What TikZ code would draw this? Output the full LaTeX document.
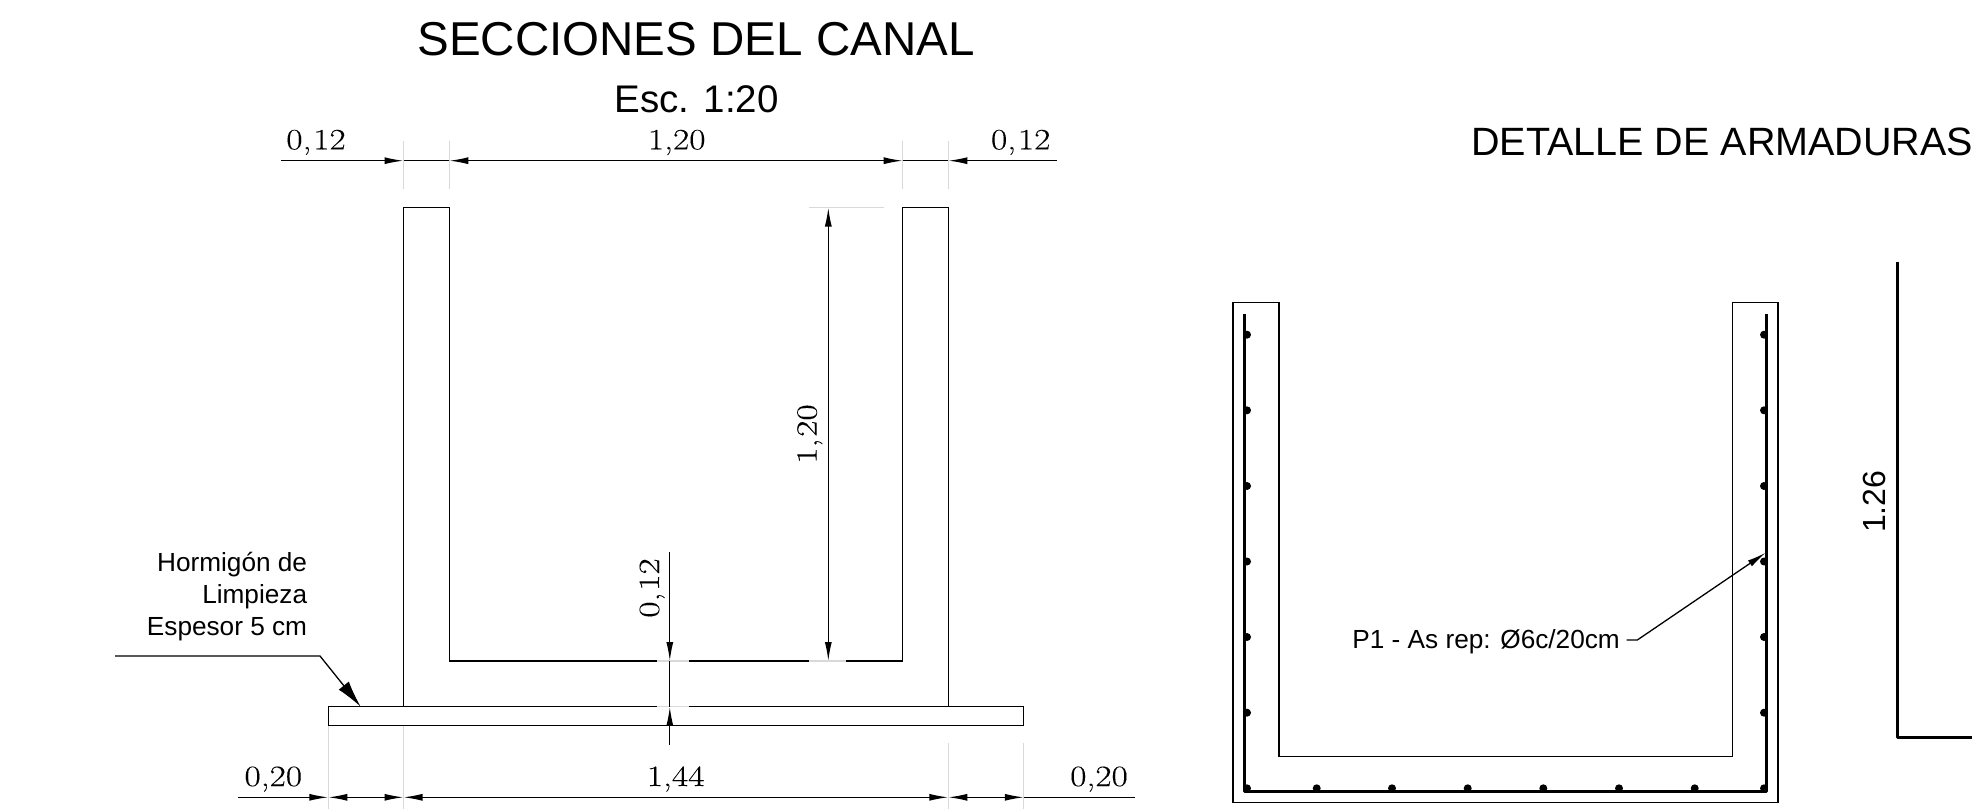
\documentclass[tikz,border=0pt]{standalone}
\usepackage{fontspec}
\setmainfont{Liberation Sans}
\usetikzlibrary{arrows.meta}
\newfontfamily\dimfont[FakeStretch=1.2,FakeBold=0.15]{Latin Modern Roman}
\newcommand{\dimcomma}{,\kern.06em}
\definecolor{extgray}{gray}{0.85}
\tikzset{
  x=1pt,y=-1pt,
  concrete/.style={draw=black,line width=1.3pt,line join=miter},
  dimline/.style={draw=black,line width=1.3pt},
  extline/.style={draw=extgray,line width=0.9pt},
  dimtip/.style={-{Latex[length=19pt,width=7pt]}},
  tiptip/.style={{Latex[length=19pt,width=7pt]}-{Latex[length=19pt,width=7pt]}},
  rebar/.style={draw=black,line width=3pt,line join=round,line cap=butt},
  bardot/.style={circle,fill=black,inner sep=0pt,minimum size=8pt},
  dimtext/.style={inner sep=0pt,font=\dimfont\fontsize{29.5}{30}\selectfont},
  labeltext/.style={inner sep=0pt,font=\fontsize{26.2}{31}\selectfont},
}
\begin{document}
\begin{tikzpicture}
\useasboundingbox[clip] (0,0) rectangle (1972,809);
% titles
\node[inner sep=0pt,anchor=base,font=\fontsize{47.5}{50}\selectfont] (title) at (696,55.5) {SECCIONES DEL CANAL};
\node[inner sep=0pt,anchor=base,font=\fontsize{38.5}{40}\selectfont] (esc) at (696.5,112) {Esc. 1:20};
\node[inner sep=0pt,anchor=base west,font=\fontsize{39.5}{40}\selectfont] (det) at (1471,155.5) {DETALLE DE ARMADURAS};
% extension lines
\foreach \xx in {403.5,449.3,902.7,948.3} \draw[extline] (\xx,141) -- (\xx,189);
\draw[extline] (809,207.5) -- (884,207.5);
\draw[extline] (328.3,725.3) -- (328.3,809);
\draw[extline] (403.5,725.3) -- (403.5,809);
\draw[extline] (948.3,743) -- (948.3,809);
\draw[extline] (1023.8,743) -- (1023.8,809);
% left section
\draw[concrete] (403.5,706.7) -- (403.5,207.5) -- (449.3,207.5) -- (449.3,661) -- (902.7,661) -- (902.7,207.5) -- (948.3,207.5) -- (948.3,706.7);
\draw[concrete] (328.3,706.7) rectangle (1023.8,725.3);
% gaps of the dimension lines
\draw[extline,line width=1.3pt] (656.8,661) -- (689.4,661);
\draw[extline,line width=1.3pt] (656.8,706.7) -- (689.4,706.7);
\draw[extline,line width=1.3pt] (809,661) -- (846,661);
% top dimensions
\coordinate (tl) at (281,160.7); \coordinate (ta) at (403.5,160.7); \coordinate (tb) at (449.3,160.7);
\coordinate (tc) at (902.7,160.7); \coordinate (td) at (948.3,160.7); \coordinate (tr) at (1057,160.7);
\draw[dimline,dimtip] (tl) -- (ta);
\draw[dimline] (ta) -- (tb);
\draw[dimline,tiptip] (tb) -- (tc);
\draw[dimline] (tc) -- (td);
\draw[dimline,dimtip] (tr) -- (td);
\node[dimtext,anchor=base] (d1) at (316,149.3) {0\dimcomma12};
\node[dimtext,anchor=base] (d2) at (676.7,149.3) {1,20};
\node[dimtext,anchor=base] (d3) at (1020.7,149.3) {0\dimcomma12};
% vertical dimensions
\coordinate (va) at (828.3,207.5); \coordinate (vb) at (828.3,661);
\draw[dimline,tiptip] (va) -- (vb);
\node[dimtext,anchor=base,rotate=90] (d4) at (816.7,434) {1\dimcomma20};
\coordinate (wa) at (669.8,552); \coordinate (wb) at (669.8,661); \coordinate (wc) at (669.8,706.7); \coordinate (wd) at (669.8,745);
\draw[dimline,dimtip] (wa) -- (wb);
\draw[dimline] (wb) -- (wc);
\draw[dimline,dimtip] (wd) -- (wc);
\node[dimtext,anchor=base,rotate=90] (d5) at (659,588) {0\dimcomma12};
% bottom dimensions
\coordinate (ba) at (238,797.3); \coordinate (bb) at (328.3,797.3); \coordinate (bc) at (403.5,797.3);
\coordinate (bd) at (948.3,797.3); \coordinate (be) at (1023.8,797.3); \coordinate (bf) at (1134.5,797.3);
\draw[dimline,dimtip] (ba) -- (bb);
\draw[dimline,tiptip] (bb) -- (bc);
\draw[dimline,tiptip] (bc) -- (bd);
\draw[dimline,tiptip] (bd) -- (be);
\draw[dimline] (be) -- (bf);
\node[dimtext,anchor=base] (d6) at (273.3,786) {0,20};
\node[dimtext,anchor=base] (d7) at (675.6,786) {1,44};
\node[dimtext,anchor=base] (d8) at (1099,786) {0,20};
% leader
\node[labeltext,anchor=base east] (h1) at (307.3,571.7) {Hormigón de};
\node[labeltext,anchor=base east] (h2) at (307.3,603) {Limpieza};
\node[labeltext,anchor=base east] (h3) at (307.3,635) {Espesor 5 cm};
\coordinate (la) at (115,656); \coordinate (lb) at (320,656); \coordinate (lc) at (360.7,706.7);
\draw[dimline,-{Latex[length=27pt,width=13pt]}] (la) -- (lb) -- (lc);
% right section
\draw[concrete] (1233,802.3) -- (1233,302.7) -- (1279,302.7) -- (1279,756.7) -- (1732.3,756.7) -- (1732.3,302.7) -- (1778,302.7) -- (1778,802.3) -- cycle;
\draw[rebar] (1244.7,314) -- (1244.7,791) -- (1766.7,791) -- (1766.7,314);
\foreach \yy [count=\i] in {334.7,410.3,486,561.5,637,712.7} {
  \node[bardot] (bl\i) at (1247,\yy) {};
  \node[bardot] (br\i) at (1764,\yy) {};
}
\foreach \xx [count=\i] in {1247,1316.7,1392,1467.7,1543.3,1619,1694.7,1764} {
  \node[bardot] (bt\i) at (\xx,788.3) {};
}
\node[labeltext,anchor=base east] (p1) at (1620,648.3) {P1 - As rep: Ø6c/20cm};
\coordinate (pa) at (1626.7,640); \coordinate (pb) at (1637.3,640); \coordinate (pc) at (1765.7,552.7);
\draw[dimline,-{Latex[length=19pt,width=7pt]}] (pa) -- (pb) -- (pc);
% second bar
\draw[rebar] (1897.7,261.6) -- (1897.7,737) -- (1980,737);
\node[inner sep=0pt,anchor=base,rotate=90,font=\fontsize{32}{34}\selectfont] (d9) at (1885,501.7) {1.26};
\end{tikzpicture}
\end{document}
